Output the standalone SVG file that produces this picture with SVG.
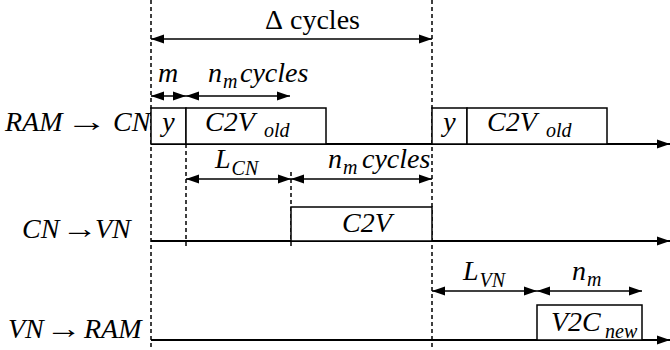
<svg xmlns="http://www.w3.org/2000/svg" width="670" height="350" viewBox="0 0 670 350">
<defs>
<marker id="ah" markerUnits="userSpaceOnUse" markerWidth="13" markerHeight="10" refX="13" refY="5" orient="auto-start-reverse"><path d="M0,0.5 L13,5 L0,9.5 z" fill="#000"/></marker>
<style>
.i{font-style:italic}
.s{font-size:20px}
.dash{stroke:#000;stroke-width:1.5;stroke-dasharray:4 3;fill:none}
.tl{stroke:#000;stroke-width:2;fill:none;marker-end:url(#ah)}
.dim{stroke:#000;stroke-width:1.5;fill:none;marker-start:url(#ah);marker-end:url(#ah)}
.box{stroke:#000;stroke-width:1.5;fill:#fff}
</style>
</defs>
<rect width="670" height="350" fill="#fff"/>
<g id="guides">
<line class="dash" x1="151" y1="0" x2="151" y2="350"/>
<line class="dash" x1="432" y1="0" x2="432" y2="350"/>
<line class="dash" x1="186" y1="144" x2="186" y2="248"/>
<line class="dash" x1="291" y1="172" x2="291" y2="248"/>
</g>
<g id="connectors">
<line class="tl" x1="151" y1="144" x2="670" y2="144"/>
<line class="tl" x1="151" y1="241" x2="670" y2="241"/>
<line class="tl" x1="151" y1="340" x2="670" y2="340"/>
<line class="dim" x1="151" y1="39" x2="432" y2="39"/>
<line class="dim" x1="151" y1="96" x2="186" y2="96"/>
<line class="dim" x1="186" y1="96" x2="290" y2="96"/>
<line class="dim" x1="186" y1="179" x2="291" y2="179"/>
<line class="dim" x1="291" y1="179" x2="432" y2="179"/>
<line class="dim" x1="432" y1="291" x2="537" y2="291"/>
<line class="dim" x1="537" y1="291" x2="642" y2="291"/>
</g>
<g font-family="Liberation Serif, Times New Roman, DejaVu Serif, serif" font-size="28" fill="#000">
<g id="row-ram-cn">
<text class="i" x="5" y="131">RAM</text>
<text transform="translate(87,131) scale(1.5,1)" text-anchor="middle">→</text>
<text class="i" x="113" y="131">CN</text>
</g>
<g id="row-cn-vn">
<text class="i" x="22" y="238">CN</text>
<text transform="translate(80,238) scale(1.3,1)" text-anchor="middle">→</text>
<text class="i" x="95" y="238">VN</text>
</g>
<g id="row-vn-ram">
<text class="i" x="8" y="338">VN</text>
<text transform="translate(64,338) scale(1.3,1)" text-anchor="middle">→</text>
<text class="i" x="84" y="338">RAM</text>
</g>
<g id="dims">
<text x="265" y="29">Δ<tspan x="290">cycles</tspan></text>
<text class="i" x="158" y="82">m</text>
<text class="i" x="208" y="82">n<tspan class="s" dx="1" dy="6">m</tspan><tspan x="240" dy="-6">cycles</tspan></text>
<text class="i" x="215" y="168">L<tspan class="s" dx="1" dy="7">CN</tspan></text>
<text class="i" x="328" y="168">n<tspan class="s" dx="1" dy="6">m</tspan><tspan x="362" dy="-6">cycles</tspan></text>
<text class="i" x="463" y="280">L<tspan class="s" dx="1" dy="7">VN</tspan></text>
<text class="i" x="572" y="280">n<tspan class="s" dx="1" dy="6">m</tspan></text>
</g>
<g id="ram-cn-1">
<rect class="box" x="151" y="108" width="35" height="36"/>
<text class="i" x="168.5" y="131" text-anchor="middle">y</text>
<rect class="box" x="186" y="108" width="140" height="36"/>
<text class="i" x="205" y="131">C2V<tspan class="s" x="264" dy="6">old</tspan></text>
</g>
<g id="ram-cn-2">
<rect class="box" x="432" y="108" width="35" height="36"/>
<text class="i" x="449.5" y="131" text-anchor="middle">y</text>
<rect class="box" x="467" y="108" width="140" height="36"/>
<text class="i" x="487" y="131">C2V<tspan class="s" x="546" dy="6">old</tspan></text>
</g>
<g id="cn-vn">
<rect class="box" x="291" y="207" width="141" height="34"/>
<text class="i" x="342" y="232">C2V</text>
</g>
<g id="vn-ram">
<rect class="box" x="537" y="305" width="105" height="35"/>
<text class="i" x="551" y="331">V2C<tspan class="s" x="605" dy="7">new</tspan></text>
</g>
</g>
</svg>
